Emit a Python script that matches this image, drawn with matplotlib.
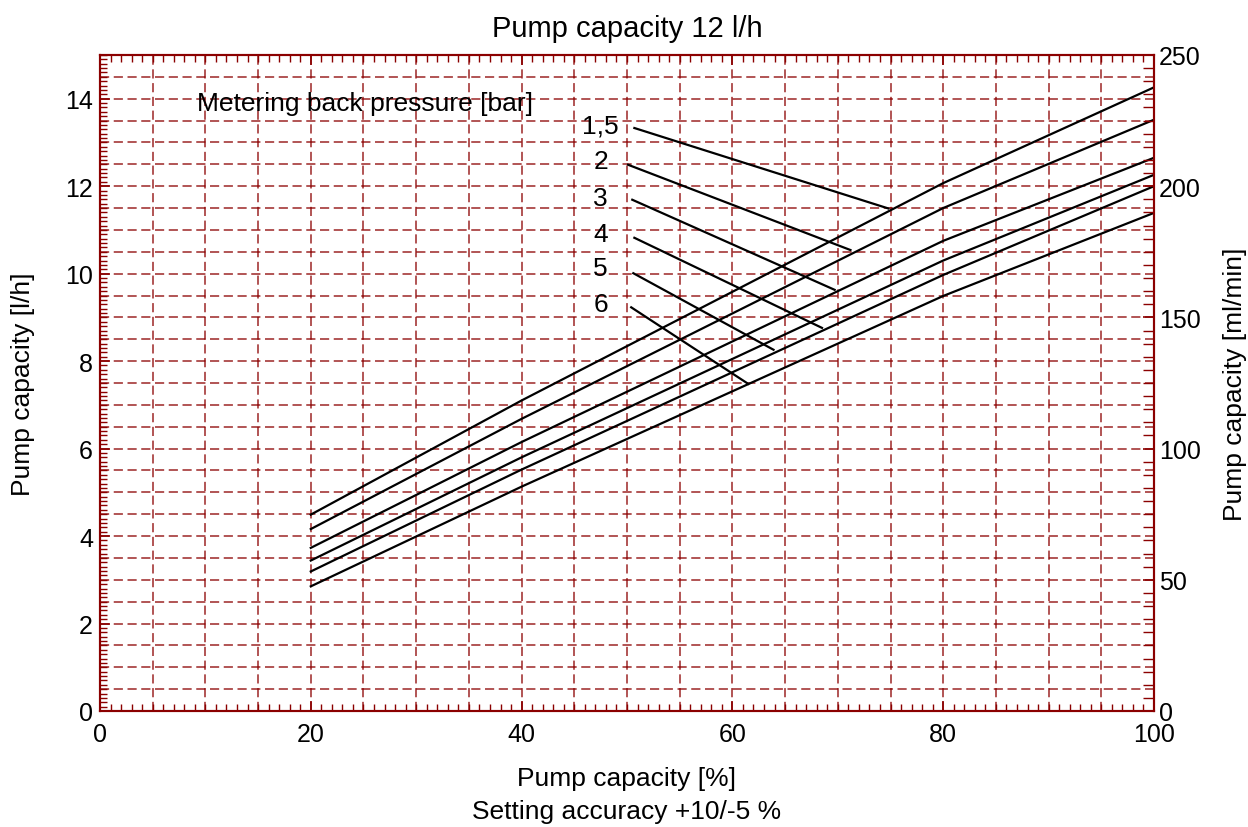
import numpy as np
import matplotlib.pyplot as plt
import matplotlib.ticker as mticker

plt.rcParams['font.family'] = ['Liberation Sans', 'DejaVu Sans']

# Pump capacity [%] where the curves are given
stroke = [20, 40, 80, 100]

# Pump capacity [l/h] for each metering back pressure
pressures = ['1,5', '2', '3', '4', '5', '6']
cap_1_5 = [4.49, 7.10, 12.07, 14.26]
cap_2 = [4.16, 6.68, 11.50, 13.52]
cap_3 = [3.73, 6.15, 10.75, 12.65]
cap_4 = [3.44, 5.80, 10.30, 12.26]
cap_5 = [3.19, 5.52, 9.97, 12.00]
cap_6 = [2.85, 5.13, 9.49, 11.39]
curves = [cap_1_5, cap_2, cap_3, cap_4, cap_5, cap_6]

# leader lines from the pressure labels to the curves
lead_x0 = [50.7, 50.1, 50.5, 50.7, 50.6, 50.4]
lead_y0 = [13.33, 12.49, 11.69, 10.82, 10.01, 9.23]
lead_x1 = [74.8, 71.2, 69.7, 68.5, 63.9, 61.5]
lead_y1 = [11.49, 10.54, 9.63, 8.76, 8.26, 7.48]
label_x = 47.5
label_y = [13.39, 12.57, 11.73, 10.91, 10.13, 9.31]

red = '#8b0000'

fig = plt.figure(figsize=(12.48, 8.28), dpi=100)
ax = fig.add_axes([0.0801, 0.1401, 0.8446, 0.7923])

for cap in curves:
    ax.plot(stroke, cap, color='black', lw=1.6, zorder=3)

for x0, y0, x1, y1 in zip(lead_x0, lead_y0, lead_x1, lead_y1):
    ax.plot([x0, x1], [y0, y1], color='black', lw=1.6, zorder=3)

for p, y in zip(pressures, label_y):
    ax.text(label_x, y, p, ha='center', va='center', fontsize=19)

ax.text(9.2, 13.9, 'Metering back pressure [bar]', ha='left', va='center',
        fontsize=19)

ax.set_xlim(0, 100)
ax.set_ylim(0, 15)

ax.xaxis.set_major_locator(mticker.FixedLocator([0, 20, 40, 60, 80, 100]))
ax.xaxis.set_minor_locator(mticker.MultipleLocator(1))
ax.yaxis.set_major_locator(mticker.MultipleLocator(2))
ax.yaxis.set_minor_locator(mticker.MultipleLocator(0.1))

# dashed grid every 5 % and every 0.5 l/h
for gx in np.arange(5, 100, 5):
    ax.axvline(gx, color=red, lw=1.1, ls=(0, (6, 3)), alpha=0.85, zorder=1)
for gy in np.arange(0.5, 15, 0.5):
    ax.axhline(gy, color=red, lw=1.1, ls=(0, (6, 3)), alpha=0.85, zorder=1)

ax.tick_params(which='both', direction='in', colors=red, labelcolor='black',
               top=True, labelsize=18)
ax.tick_params(which='major', length=7, width=1.2)
ax.tick_params(which='minor', length=5, width=1)
ax.tick_params(axis='x', pad=8)
ax.tick_params(axis='y', pad=5)

ax2 = ax.twinx()
ax2.set_ylim(0, 250)
ax2.yaxis.set_major_locator(mticker.MultipleLocator(50))
ax2.yaxis.set_minor_locator(mticker.MultipleLocator(5))
ax2.tick_params(which='both', direction='in', colors=red, labelcolor='black',
                labelsize=18)
ax2.tick_params(which='major', length=8, width=1.2)
ax2.tick_params(which='minor', length=8, width=1)

for a in (ax, ax2):
    for s in a.spines.values():
        s.set_color(red)
        s.set_linewidth(1.5)

ax.set_xlabel('Pump capacity [%]\nSetting accuracy +10/-5 %', fontsize=19,
              linespacing=1.5, labelpad=14)
ax.set_ylabel('Pump capacity [l/h]', fontsize=19, labelpad=22)
ax2.set_ylabel('Pump capacity [ml/min]', fontsize=19, rotation=90,
               labelpad=16)
ax.set_title('Pump capacity 12 l/h', fontsize=21, pad=14)

fig.savefig('out.png', dpi=100)
